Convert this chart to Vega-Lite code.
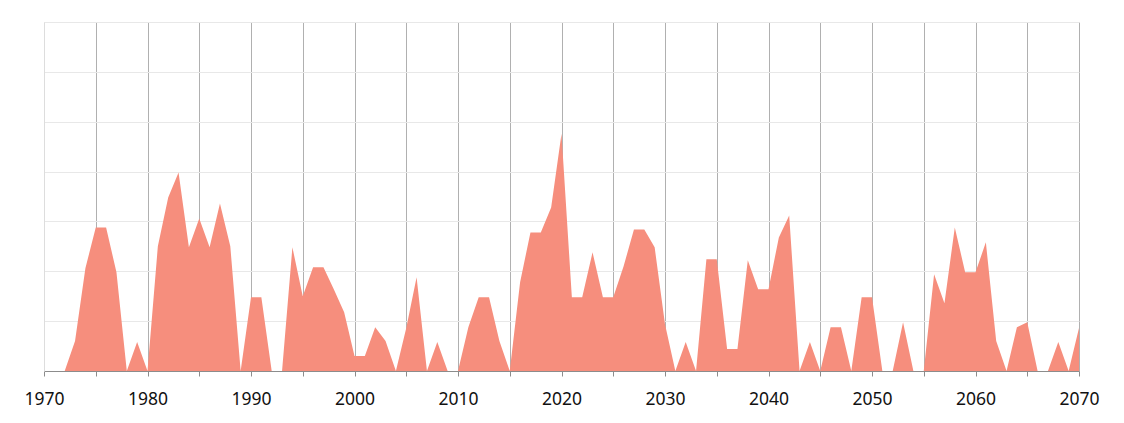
{
  "$schema": "https://vega.github.io/schema/vega-lite/v6.json",
  "width": 1035,
  "height": 349,
  "autosize": "none",
  "padding": {"left": 44, "top": 22, "right": 45, "bottom": 52},
  "background": "#ffffff",
  "config": {"view": {"stroke": null}, "font": "Noto Sans"},
  "data": {"values": [
    {"year": 1970, "value": 0}, {"year": 1971, "value": 0}, {"year": 1972, "value": 0}, {"year": 1973, "value": 30},
    {"year": 1974, "value": 103}, {"year": 1975, "value": 144}, {"year": 1976, "value": 144}, {"year": 1977, "value": 99},
    {"year": 1978, "value": 0}, {"year": 1979, "value": 29}, {"year": 1980, "value": 0}, {"year": 1981, "value": 125},
    {"year": 1982, "value": 174}, {"year": 1983, "value": 199}, {"year": 1984, "value": 124}, {"year": 1985, "value": 153},
    {"year": 1986, "value": 124}, {"year": 1987, "value": 168}, {"year": 1988, "value": 125}, {"year": 1989, "value": 0},
    {"year": 1990, "value": 74}, {"year": 1991, "value": 74}, {"year": 1992, "value": 0}, {"year": 1993, "value": 0},
    {"year": 1994, "value": 124}, {"year": 1995, "value": 75}, {"year": 1996, "value": 104}, {"year": 1997, "value": 104},
    {"year": 1998, "value": 82}, {"year": 1999, "value": 59}, {"year": 2000, "value": 15}, {"year": 2001, "value": 15},
    {"year": 2002, "value": 44}, {"year": 2003, "value": 30}, {"year": 2004, "value": 0}, {"year": 2005, "value": 43},
    {"year": 2006, "value": 94}, {"year": 2007, "value": 0}, {"year": 2008, "value": 29}, {"year": 2009, "value": 0},
    {"year": 2010, "value": 0}, {"year": 2011, "value": 44}, {"year": 2012, "value": 74}, {"year": 2013, "value": 74},
    {"year": 2014, "value": 30}, {"year": 2015, "value": 0}, {"year": 2016, "value": 89}, {"year": 2017, "value": 139},
    {"year": 2018, "value": 139}, {"year": 2019, "value": 164}, {"year": 2020, "value": 238}, {"year": 2021, "value": 74},
    {"year": 2022, "value": 74}, {"year": 2023, "value": 119}, {"year": 2024, "value": 74}, {"year": 2025, "value": 74},
    {"year": 2026, "value": 105}, {"year": 2027, "value": 142}, {"year": 2028, "value": 142}, {"year": 2029, "value": 124},
    {"year": 2030, "value": 47}, {"year": 2031, "value": 0}, {"year": 2032, "value": 29}, {"year": 2033, "value": 0},
    {"year": 2034, "value": 112}, {"year": 2035, "value": 112}, {"year": 2036, "value": 22}, {"year": 2037, "value": 22},
    {"year": 2038, "value": 111}, {"year": 2039, "value": 82}, {"year": 2040, "value": 82}, {"year": 2041, "value": 134},
    {"year": 2042, "value": 156}, {"year": 2043, "value": 0}, {"year": 2044, "value": 29}, {"year": 2045, "value": 0},
    {"year": 2046, "value": 44}, {"year": 2047, "value": 44}, {"year": 2048, "value": 0}, {"year": 2049, "value": 74},
    {"year": 2050, "value": 74}, {"year": 2051, "value": 0}, {"year": 2052, "value": 0}, {"year": 2053, "value": 49},
    {"year": 2054, "value": 0}, {"year": 2055, "value": 0}, {"year": 2056, "value": 97}, {"year": 2057, "value": 68},
    {"year": 2058, "value": 144}, {"year": 2059, "value": 99}, {"year": 2060, "value": 99}, {"year": 2061, "value": 129},
    {"year": 2062, "value": 30}, {"year": 2063, "value": 0}, {"year": 2064, "value": 44}, {"year": 2065, "value": 49},
    {"year": 2066, "value": 0}, {"year": 2067, "value": 0}, {"year": 2068, "value": 29}, {"year": 2069, "value": 0},
    {"year": 2070, "value": 43}
  ]},
  "mark": {"type": "area", "interpolate": "linear", "color": "#F68E7D", "opacity": 1},
  "encoding": {
    "x": {
      "field": "year", "type": "quantitative", "title": null,
      "scale": {"domain": [1970, 2070], "nice": false, "zero": false},
      "axis": {
        "values": [1970,1975,1980,1985,1990,1995,2000,2005,2010,2015,2020,2025,2030,2035,2040,2045,2050,2055,2060,2065,2070],
        "format": "d",
        "labelExpr": "datum.value % 10 === 0 ? datum.label : ''",
        "grid": true,
        "gridColor": {"condition": {"test": "datum.value === 1970", "value": "#dddddd"}, "value": "#b0b0b0"},
        "gridWidth": 1,
        "domainColor": "#8c8c8c",
        "tickColor": "#8c8c8c",
        "tickSize": 5,
        "labelFontSize": 17.5,
        "labelColor": "#111111",
        "labelPadding": 14,
        "labelFont": "Noto Sans",
        "labelOverlap": false,
        "labelFlush": false
      }
    },
    "y": {
      "field": "value", "type": "quantitative", "title": null,
      "scale": {"domain": [0, 350], "nice": false},
      "axis": {
        "values": [0, 50, 100, 150, 200, 250, 300, 350],
        "labels": false, "ticks": false,
        "domainColor": "#dddddd",
        "gridColor": "#e8e8e8",
        "grid": true
      }
    }
  }
}
